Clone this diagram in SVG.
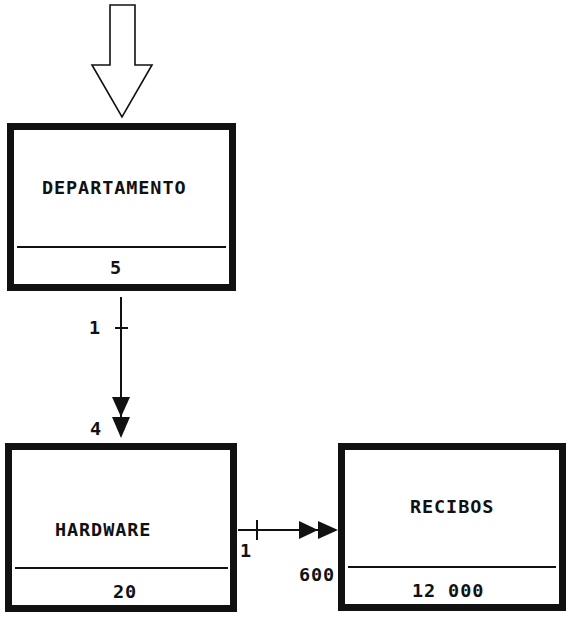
<svg xmlns="http://www.w3.org/2000/svg" width="568" height="617" viewBox="0 0 568 617">
<style>
.box{fill:#fff;stroke:#111;stroke-width:7}
.div{stroke:#111;stroke-width:2}
.t{font-family:"DejaVu Sans Mono","Liberation Mono",monospace;font-weight:bold;font-size:18.5px;letter-spacing:0.9px;fill:#111}
.ln{stroke:#111;stroke-width:2;fill:none}
.ah{fill:#111}
</style>
<rect width="568" height="617" fill="#fff"/>
<g id="entry-arrow">
<polygon points="110,5 135,5 135,65 152,65 122,117 92,65 110,65" fill="#fff" stroke="#111" stroke-width="1.6"/>
</g>
<g id="departamento">
<rect class="box" x="10.5" y="126.5" width="222" height="161"/>
<line class="div" x1="17" y1="247" x2="226" y2="247"/>
<text class="t" x="42" y="194">DEPARTAMENTO</text>
<text class="t" x="110" y="274">5</text>
</g>
<g id="hardware">
<rect class="box" x="8.5" y="446.5" width="225" height="162"/>
<line class="div" x1="15" y1="568" x2="228" y2="568"/>
<text class="t" x="55" y="536">HARDWARE</text>
<text class="t" x="113" y="598">20</text>
</g>
<g id="recibos">
<rect class="box" x="341.5" y="446.5" width="221" height="161"/>
<line class="div" x1="348" y1="567" x2="556" y2="567"/>
<text class="t" x="410" y="513">RECIBOS</text>
<text class="t" x="412" y="597">12 000</text>
</g>
<g id="connectors">
<line class="ln" x1="121" y1="297" x2="121" y2="420"/>
<line class="ln" x1="115" y1="328" x2="128" y2="328"/>
<polygon class="ah" points="112,397 130,397 121,417"/>
<polygon class="ah" points="112,417 130,417 121,438"/>
<text class="t" x="89" y="334">1</text>
<text class="t" x="90" y="435">4</text>
<line class="ln" x1="238" y1="530" x2="322" y2="530"/>
<line class="ln" x1="257" y1="520" x2="257" y2="540"/>
<polygon class="ah" points="299,521 299,539 318,530"/>
<polygon class="ah" points="318,521 318,539 338,530"/>
<text class="t" x="240" y="557">1</text>
<text class="t" x="299" y="581">600</text>
</g>
</svg>
